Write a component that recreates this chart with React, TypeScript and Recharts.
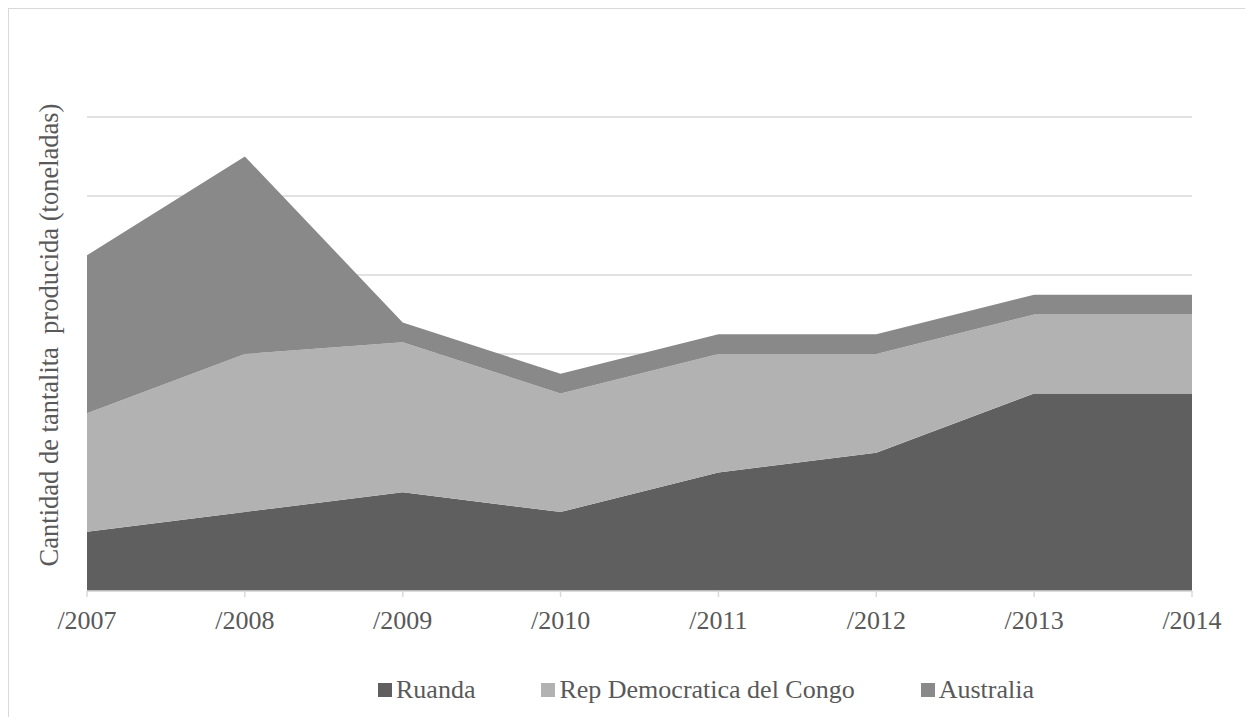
import { Area, AreaChart, CartesianGrid, XAxis, YAxis } from "recharts";

const years = ["/2007", "/2008", "/2009", "/2010", "/2011", "/2012", "/2013", "/2014"];
const ruanda = [0.75, 1.0, 1.25, 1.0, 1.5, 1.75, 2.5, 2.5];
const congo = [1.5, 2.0, 1.9, 1.5, 1.5, 1.25, 1.0, 1.0];
const australia = [2.0, 2.5, 0.25, 0.25, 0.25, 0.25, 0.25, 0.25];
const yTicks = [0, 1, 2, 3, 4, 5, 6];

const series = [
  { key: "ruanda", name: "Ruanda", color: "#5f5f5f" },
  { key: "congo", name: "Rep Democratica del Congo", color: "#b2b2b2" },
  { key: "australia", name: "Australia", color: "#898989" },
];

const data = years.map((y, i) => ({
  year: y,
  ruanda: ruanda[i],
  congo: congo[i],
  australia: australia[i],
}));

const FONT = "'Liberation Serif', 'Times New Roman', serif";
const TEXT = "#595959";

// rotated axis title, placed like the Excel original
function YTitle() {
  const cx = 40;
  const cy = 326;
  return (
    <text
      x={cx}
      y={cy}
      transform={`rotate(-90 ${cx} ${cy})`}
      textAnchor="middle"
      dominantBaseline="central"
      fill={TEXT}
      fontSize={26.5}
      fontFamily={FONT}
      style={{ whiteSpace: "pre" }}
    >
      Cantidad de tantalita  producida (toneladas)
    </text>
  );
}

export default function App() {
  return (
    <div
      style={{
        position: "relative",
        width: 1300,
        height: 740,
        border: "1px solid #d9d9d9",
        boxSizing: "border-box",
        background: "#fff",
        fontFamily: FONT,
      }}
    >
      <AreaChart
        width={1236}
        height={708}
        data={data}
        margin={{ top: 108, right: 53, left: 0, bottom: 66 }}
      >
        <CartesianGrid vertical={false} stroke="#d9d9d9" strokeWidth={1.5} />
        <YAxis
          width={78}
          domain={[0, 6]}
          ticks={yTicks}
          tickFormatter={() => ""}
          axisLine={false}
          tickLine={false}
          label={<YTitle />}
        />
        <XAxis
          dataKey="year"
          height={60}
          stroke="#d9d9d9"
          strokeWidth={1.5}
          tickSize={6}
          tickMargin={14}
          tick={{ fill: TEXT, fontSize: 26, fontFamily: FONT }}
          interval={0}
        />
        {series.map((s) => (
          <Area
            key={s.key}
            type="linear"
            dataKey={s.key}
            name={s.name}
            stackId="1"
            stroke="none"
            fill={s.color}
            fillOpacity={1}
            isAnimationActive={false}
          />
        ))}
      </AreaChart>
      <div
        style={{
          position: "absolute",
          left: 369,
          top: 666,
          display: "flex",
          alignItems: "center",
          color: TEXT,
          fontSize: 26,
          fontFamily: FONT,
          whiteSpace: "nowrap",
        }}
      >
        {series.map((s, i) => (
          <div
            key={s.key}
            style={{ display: "flex", alignItems: "center", marginLeft: i === 0 ? 0 : 66 }}
          >
            <span
              style={{
                display: "inline-block",
                width: 14,
                height: 14,
                background: s.color,
                marginRight: 4,
              }}
            />
            <span>{s.name}</span>
          </div>
        ))}
      </div>
    </div>
  );
}
